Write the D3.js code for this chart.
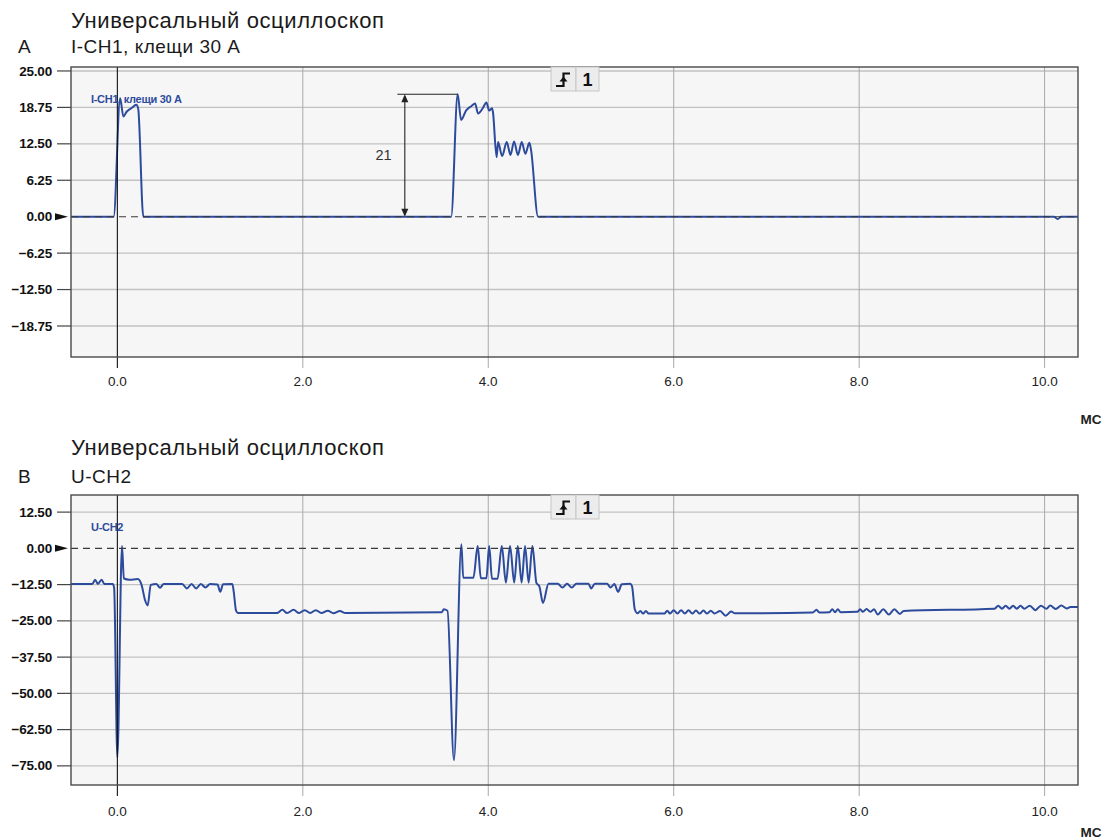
<!DOCTYPE html>
<html>
<head>
<meta charset="utf-8">
<script src="https://cdn.jsdelivr.net/npm/d3@7"></script>
<style>
  body { margin: 0; background: #fff; }
  svg { display: block; font-family: "Liberation Sans", Arial, Helvetica, sans-serif; }
</style>
</head>
<body>
<svg id="chart" width="1105" height="839"></svg>
<script>
// ---- axis ticks ----
const timeTicks = [0, 2, 4, 6, 8, 10];
const currentTicks = [25, 18.75, 12.5, 6.25, 0, -6.25, -12.5, -18.75];
const voltageTicks = [12.5, 0, -12.5, -25, -37.5, -50, -62.5, -75];

// ---- channel 1: current clamp, A ----
const ch1Time = [-0.5, -0.05, -0.04, 0.03, 0.065, 0.10, 0.15, 0.205, 0.225, 0.28,
  3.60, 3.67, 3.707, 3.76, 3.82, 3.858, 3.89, 3.94, 3.98, 4.01, 4.04, 4.05, 4.09,
  4.106, 4.15, 4.199, 4.24, 4.278, 4.32, 4.361, 4.40, 4.443, 4.46, 4.537,
  10.10, 10.14, 10.18, 10.36];
const ch1Current = [0, 0, 0, 20.3, 17.2, 18.0, 18.6, 19.2, 18.5, 0,
  0, 21, 16.6, 18.2, 19.0, 19.4, 17.7, 18.6, 19.6, 18.2, 18.6, 18.0, 10.2,
  12.8, 10.4, 12.8, 10.6, 12.9, 10.6, 12.8, 10.8, 12.7, 11.6, 0,
  0, -0.4, 0, 0];

// ---- channel 2: voltage, V ----
const ch2Time = [-0.5, -0.27, -0.24, -0.21, -0.17, -0.14, -0.05, -0.035, 0.0, 0.05, 0.07,
  0.13, 0.22, 0.26, 0.30, 0.327, 0.36, 0.42, 0.46, 0.50, 0.55, 0.70, 0.75, 0.80, 0.85,
  0.90, 0.95, 1.00, 1.08, 1.11, 1.14, 1.24, 1.255, 1.28, 1.30,
  1.72, 1.78, 1.83, 1.90, 1.96, 2.02, 2.08, 2.14, 2.20, 2.27, 2.33, 2.40, 2.46,
  3.50, 3.52, 3.56, 3.63, 3.71, 3.73, 3.84, 3.886, 3.92, 3.98, 4.01, 4.04, 4.10,
  4.146, 4.19, 4.235, 4.28, 4.318, 4.36, 4.397, 4.435, 4.476, 4.52, 4.55, 4.59, 4.65,
  4.75, 4.80, 4.85, 4.90, 4.95, 5.08, 5.11, 5.15, 5.28, 5.32, 5.36, 5.40, 5.44,
  5.53, 5.55, 5.58, 5.61, 5.64, 5.67, 5.70, 5.73, 5.76,
  5.90, 5.93, 5.96, 6.00, 6.04, 6.08, 6.12, 6.16, 6.20, 6.24, 6.28, 6.32, 6.36,
  6.40, 6.44, 6.50, 6.56, 6.62, 6.66,
  7.50, 7.54, 7.57, 7.68, 7.71, 7.74, 7.77, 7.80,
  7.98, 8.01, 8.04, 8.08, 8.12, 8.16, 8.20, 8.26, 8.32, 8.38, 8.44, 8.48,
  9.46, 9.50, 9.54, 9.58, 9.62, 9.66, 9.70, 9.74, 9.78, 9.84, 9.90, 9.96,
  10.02, 10.06, 10.12, 10.18, 10.24, 10.28, 10.36];
const ch2Voltage = [-12.3, -12.3, -10.8, -12.3, -10.8, -12.3, -12.3, -13.5, -72, 0.8, -10.4,
  -10.8, -10.6, -12.5, -18, -19.7, -12.6, -12.3, -13.6, -12.3, -12.3, -12.3, -13.8, -12.3, -13.8,
  -12.3, -13.5, -12.3, -12.5, -15, -12.4, -12.3, -15, -21.5, -22.3,
  -22.3, -21.2, -22.3, -21.2, -22.3, -21.3, -22.3, -21.3, -22.3, -21.5, -22.4, -21.6, -22.3,
  -22.0, -21.0, -21.5, -73, 1.4, -10.1, -10.1, 0.8, -10.3, -10.3, 0.8, -10.5, -10.5,
  0.8, -11.8, 0.8, -11.8, 0.8, -11.8, 0.8, -11.8, 0.8, -12.0, -13.0, -18.8, -12.2,
  -12.2, -13.5, -12.2, -13.5, -12.2, -12.2, -13.8, -12.2, -12.2, -13.5, -12.3, -15, -12.4,
  -12.2, -13.0, -21.0, -22.4, -21.6, -22.5, -21.6, -22.5, -22.5,
  -22.5, -21.5, -22.5, -21.3, -22.5, -21.3, -22.5, -21.3, -22.5, -21.4, -22.5, -21.4, -22.5,
  -21.5, -22.5, -21.6, -23.2, -21.8, -22.4,
  -22.1, -21.2, -22.1, -22.0, -21.0, -22.0, -21.0, -22.0,
  -21.9, -21.0, -21.9, -20.9, -21.9, -21.0, -22.8, -21.0, -22.8, -21.0, -22.6, -21.6,
  -20.8, -19.8, -20.8, -19.8, -20.8, -19.8, -20.8, -19.8, -20.8, -19.8, -21.3, -19.8,
  -20.8, -19.7, -20.9, -19.7, -20.7, -20.2, -20.2];

// measured pulse amplitude on channel 1
const peakCurrent = 21;

const svg = d3.select("#chart");
const traceColor = "#2d4b9c";
const plotLeft = 71, plotRight = 1078;
const x = d3.scaleLinear().domain([-0.5, 10.36]).range([plotLeft, plotRight]);

function drawPanel(p) {
  const top = p.top, bottom = p.top + p.height;
  const y = d3.scaleLinear().domain(p.yDomain).range([bottom, top]);
  const g = svg.append("g");

  // headings
  g.append("text").attr("x", plotLeft).attr("y", p.titleY)
    .attr("font-size", 22).attr("letter-spacing", "0.6").attr("fill", "#1a1a1a")
    .text("Универсальный осциллоскоп");
  g.append("text").attr("x", 18).attr("y", p.subtitleY)
    .attr("font-size", 19).attr("fill", "#1a1a1a").text(p.letter);
  g.append("text").attr("x", plotLeft).attr("y", p.subtitleY)
    .attr("font-size", 19).attr("letter-spacing", "0.5").attr("fill", "#1a1a1a").text(p.subtitle);

  // plot background
  g.append("rect").attr("x", plotLeft).attr("y", top)
    .attr("width", plotRight - plotLeft).attr("height", p.height)
    .attr("fill", "#f6f6f6");

  // horizontal grid
  g.append("g").selectAll("line").data(p.ticks.filter(d => d !== 0)).join("line")
    .attr("x1", plotLeft).attr("x2", plotRight)
    .attr("y1", d => y(d)).attr("y2", d => y(d))
    .attr("stroke", "#c2c2c2").attr("stroke-width", 1.4);

  // vertical grid + tick marks below the frame
  g.append("g").selectAll("line").data(timeTicks.filter(d => d !== 0)).join("line")
    .attr("x1", d => x(d)).attr("x2", d => x(d))
    .attr("y1", top).attr("y2", bottom + 11)
    .attr("stroke", "#a9a9a9").attr("stroke-width", 1);

  // y axis tick marks
  g.append("g").selectAll("line").data(p.ticks.filter(d => d !== 0)).join("line")
    .attr("x1", 57).attr("x2", plotLeft)
    .attr("y1", d => y(d)).attr("y2", d => y(d))
    .attr("stroke", "#444").attr("stroke-width", 1.2);

  // zero marker
  g.append("path")
    .attr("d", `M55,${y(0) - 3.5} L68,${y(0)} L55,${y(0) + 3.5} Z`)
    .attr("fill", "#111");

  // y tick labels
  g.append("g").selectAll("text").data(p.ticks).join("text")
    .attr("x", 52).attr("y", d => y(d) + 4.6)
    .attr("text-anchor", "end").attr("font-size", 13.5).attr("font-weight", "bold")
    .attr("letter-spacing", "-0.2").attr("fill", "#111")
    .text(d => d3.format(".2f")(d));

  // x tick labels
  g.append("g").selectAll("text").data(timeTicks).join("text")
    .attr("x", d => x(d)).attr("y", p.xLabelY)
    .attr("text-anchor", "middle").attr("font-size", 13.5).attr("fill", "#222")
    .text(d => d3.format(".1f")(d));
  g.append("text").attr("x", 1091).attr("y", p.unitY)
    .attr("text-anchor", "middle").attr("font-size", 13.5).attr("font-weight", "bold")
    .attr("fill", "#222").text("МС");

  // trace
  const clipId = "clip-" + p.letter;
  svg.append("clipPath").attr("id", clipId).append("rect")
    .attr("x", plotLeft).attr("y", top).attr("width", plotRight - plotLeft).attr("height", p.height);
  const line = d3.line().curve(d3.curveMonotoneX)
    .x((d, i) => x(p.time[i])).y(d => y(d));
  g.append("path").datum(p.values)
    .attr("clip-path", `url(#${clipId})`)
    .attr("d", line).attr("fill", "none")
    .attr("stroke", traceColor).attr("stroke-width", 2)
    .attr("stroke-linejoin", "round");

  // dashed zero reference
  g.append("line").attr("x1", plotLeft).attr("x2", plotRight)
    .attr("y1", y(0)).attr("y2", y(0))
    .attr("stroke", "#3a3a3a").attr("stroke-width", 1.1)
    .attr("stroke-dasharray", "7,5");

  // trigger time line
  g.append("line").attr("x1", x(0)).attr("x2", x(0))
    .attr("y1", top).attr("y2", bottom + 11)
    .attr("stroke", "#111").attr("stroke-width", 1.1);

  // frame
  g.append("rect").attr("x", plotLeft).attr("y", top)
    .attr("width", plotRight - plotLeft).attr("height", p.height)
    .attr("fill", "none").attr("stroke", "#4a4a4a").attr("stroke-width", 1.4);

  // channel name inside the plot
  g.append("text").attr("x", 91).attr("y", top + p.labelDy)
    .attr("font-size", 11).attr("font-weight", "bold").attr("letter-spacing", "-0.3")
    .attr("fill", traceColor).text(p.traceLabel);

  // trigger indicator box
  const bx = 551, bw1 = 25, bw2 = 23, bh = 24;
  const tb = g.append("g");
  tb.append("rect").attr("x", bx).attr("y", top).attr("width", bw1).attr("height", bh)
    .attr("fill", "#ececec").attr("stroke", "#c6c6c6");
  tb.append("rect").attr("x", bx + bw1).attr("y", top).attr("width", bw2).attr("height", bh)
    .attr("fill", "#ececec").attr("stroke", "#c6c6c6");
  tb.append("path")
    .attr("d", `M${bx + 5},${top + 19} H${bx + 12.5} V${top + 6.5} H${bx + 19}`)
    .attr("fill", "none").attr("stroke", "#111").attr("stroke-width", 2.2);
  tb.append("path")
    .attr("d", `M${bx + 8.5},${top + 14.5} L${bx + 12.5},${top + 9.5} L${bx + 16.5},${top + 14.5} Z`)
    .attr("fill", "#111");
  tb.append("text").attr("x", bx + bw1 + bw2 / 2).attr("y", top + 18.5)
    .attr("text-anchor", "middle").attr("font-size", 18).attr("font-weight", "bold")
    .attr("fill", "#111").text("1");

  return { g, y };
}

// Panel A: current
const A = drawPanel({
  top: 67, height: 290, yDomain: [-24.07, 25.68], ticks: currentTicks,
  time: ch1Time, values: ch1Current,
  letter: "A", subtitle: "I-CH1, клещи 30 A", traceLabel: "I-CH1, клещи 30 A",
  titleY: 28, subtitleY: 53, labelDy: 36, xLabelY: 386, unitY: 424
});

// amplitude measurement on the second pulse
{
  const yTop = A.y(peakCurrent), yBase = A.y(0);
  const ax = x(3.10);
  A.g.append("line").attr("x1", x(3.02)).attr("x2", x(3.67))
    .attr("y1", yTop).attr("y2", yTop).attr("stroke", "#222").attr("stroke-width", 1.1);
  A.g.append("line").attr("x1", ax).attr("x2", ax)
    .attr("y1", yTop + 2).attr("y2", yBase - 2).attr("stroke", "#222").attr("stroke-width", 1.1);
  A.g.append("path").attr("d", `M${ax - 3.5},${yTop + 8} L${ax},${yTop} L${ax + 3.5},${yTop + 8} Z`)
    .attr("fill", "#222");
  A.g.append("path").attr("d", `M${ax - 3.5},${yBase - 8} L${ax},${yBase} L${ax + 3.5},${yBase - 8} Z`)
    .attr("fill", "#222");
  A.g.append("text").attr("x", x(2.87)).attr("y", (yTop + yBase) / 2 + 5)
    .attr("text-anchor", "middle").attr("font-size", 14.5).attr("fill", "#333")
    .text(String(peakCurrent));
}

// Panel B: voltage
drawPanel({
  top: 495, height: 290, yDomain: [-81.6, 18.4], ticks: voltageTicks,
  time: ch2Time, values: ch2Voltage,
  letter: "B", subtitle: "U-CH2", traceLabel: "U-CH2",
  titleY: 455, subtitleY: 483, labelDy: 36, xLabelY: 816, unitY: 837
});
</script>
</body>
</html>
